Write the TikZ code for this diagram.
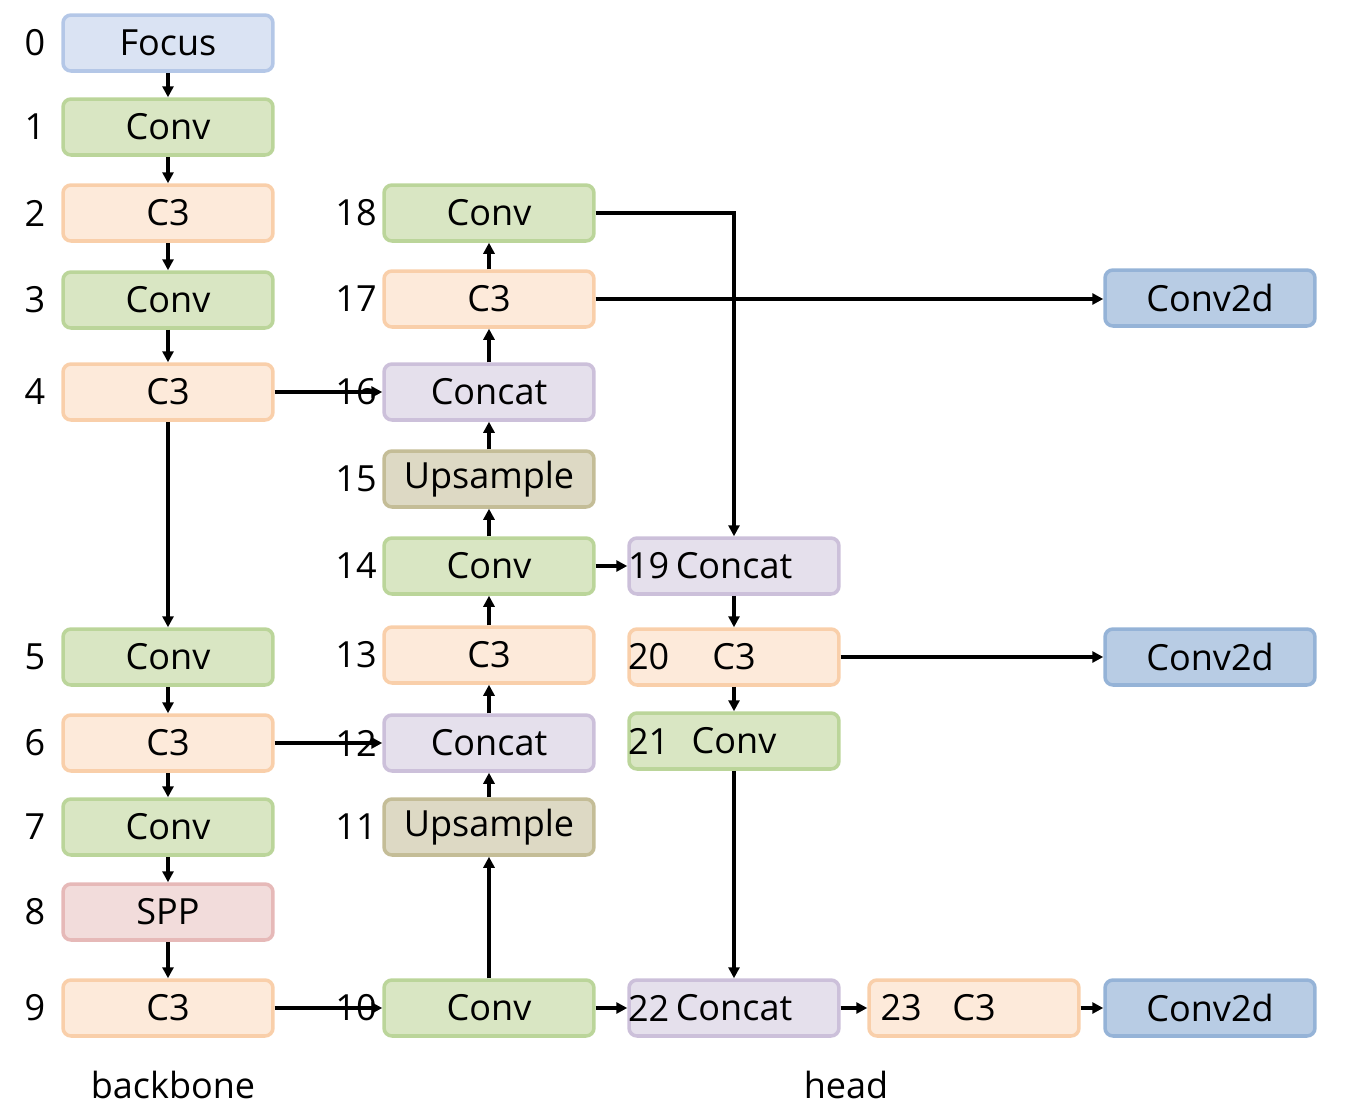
\documentclass[tikz,border=0pt]{standalone}
\usepackage{fontspec}
\usepackage{xcolor}
\usetikzlibrary{arrows.meta, positioning}

\newfontfamily\netfont{Open Sans}
\newcommand{\lfont}{\netfont\fontsize{20.5}{24}\selectfont}

\definecolor{focusfill}{HTML}{DAE3F3}
\definecolor{focusline}{HTML}{B4C7E7}
\definecolor{convfill}{HTML}{D9E6C3}
\definecolor{convline}{HTML}{BBD59A}
\definecolor{cfill}{HTML}{FDEADA}
\definecolor{cline}{HTML}{F9CFAA}
\definecolor{catfill}{HTML}{E5E0EC}
\definecolor{catline}{HTML}{CCC0DA}
\definecolor{upfill}{HTML}{DDD9C4}
\definecolor{upline}{HTML}{C4BD97}
\definecolor{sppfill}{HTML}{F2DCDB}
\definecolor{sppline}{HTML}{E6B9B8}
\definecolor{outfill}{HTML}{B8CCE4}
\definecolor{outline}{HTML}{95B3D7}

\begin{document}
\begin{tikzpicture}[
        x=0.02cm, y=-0.02cm,
        layer/.style={rectangle, rounded corners=0.16cm, draw, line width=2pt, minimum width=4.2cm, minimum height=1.12cm, inner sep=0pt, font=\lfont},
        focus/.style={layer, fill=focusfill, draw=focusline},
        conv/.style={layer, fill=convfill, draw=convline},
        cthree/.style={layer, fill=cfill, draw=cline},
        concat/.style={layer, fill=catfill, draw=catline},
        upsample/.style={layer, fill=upfill, draw=upline},
        spp/.style={layer, fill=sppfill, draw=sppline},
        outconv/.style={layer, fill=outfill, draw=outline},
        idx/.style={inner sep=0pt, font=\lfont},
        arr/.style={-{Triangle[length=0.22cm, width=0.22cm]}, line width=2pt}
    ]
    \useasboundingbox (0,0) rectangle (1347,1113);

    % Backbone
    \node[focus]  (l0) at (168,43)   {Focus};
    \node[conv]   (l1) at (168,127)  {Conv};
    \node[cthree] (l2) at (168,213)  {C3};
    \node[conv]   (l3) at (168,300)  {Conv};
    \node[cthree] (l4) at (168,392)  {C3};
    \node[conv]   (l5) at (168,657)  {Conv};
    \node[cthree] (l6) at (168,743)  {C3};
    \node[conv]   (l7) at (168,827)  {Conv};
    \node[spp]    (l8) at (168,912)  {SPP};
    \node[cthree] (l9) at (168,1008) {C3};

    % Head
    \node[conv]     (l10) at (489,1008) {Conv};
    \node[upsample] (l11) at (489,827)  {Upsample};
    \node[concat]   (l12) at (489,743)  {Concat};
    \node[cthree]   (l13) at (489,655)  {C3};
    \node[conv]     (l14) at (489,566)  {Conv};
    \node[upsample] (l15) at (489,479)  {Upsample};
    \node[concat]   (l16) at (489,392)  {Concat};
    \node[cthree]   (l17) at (489,299)  {C3};
    \node[conv]     (l18) at (489,213)  {Conv};
    \node[concat]   (l19) at (734,566)  {Concat};
    \node[cthree]   (l20) at (734,657)  {C3};
    \node[conv]     (l21) at (734,741)  {Conv};
    \node[concat]   (l22) at (734,1008) {Concat};
    \node[cthree]   (l23) at (974,1008) {C3};
    \node[outconv]  (d1) at (1210,298)  {Conv2d};
    \node[outconv]  (d2) at (1210,657)  {Conv2d};
    \node[outconv]  (d3) at (1210,1008) {Conv2d};

    % Layer numbers
    \foreach \n/\y in {0/43, 1/127, 2/213, 3/300, 4/392, 5/657, 6/743, 7/827, 8/912, 9/1008}
        \node[idx] (n\n) at (35,\y) {\n};
    \foreach \n/\y in {10/1008, 11/827, 12/743, 13/655, 14/566, 15/479, 16/392, 17/299, 18/213}
        \node[idx, anchor=east] (n\n) at (377,\y) {\n};
    \foreach \n in {19, 20, 21, 22}
        \node[idx, anchor=west] (n\n) at ([xshift=0.01cm]l\n.west) {\n};
    \node[idx, anchor=west] (n23) at ([xshift=0.26cm]l23.west) {23};

    \node[idx] (backbone) at (173,1085) {backbone};
    \node[idx] (head) at (846,1085) {head};

    % Arrows
    \foreach \a/\b in {l0/l1, l1/l2, l2/l3, l3/l4, l4/l5, l5/l6, l6/l7, l7/l8, l8/l9,
                       l10/l11, l11/l12, l12/l13, l13/l14, l14/l15, l15/l16, l16/l17, l17/l18,
                       l19/l20, l20/l21, l21/l22}
        \draw[arr] (\a) -- (\b);
    \draw[arr] (l4) -- (l16);
    \draw[arr] (l6) -- (l12);
    \draw[arr] (l9) -- (l10);
    \draw[arr] (l14) -- (l19);
    \draw[arr] (l10) -- (l22);
    \draw[arr] (l22) -- (l23);
    \draw[arr] (l23) -- (d3);
    \draw[arr] (l20) -- (d2);
    \draw[arr] (l17.east) -- (d1.west |- l17.east);
    \draw[arr] (l18) -| (l19);
\end{tikzpicture}
\end{document}
